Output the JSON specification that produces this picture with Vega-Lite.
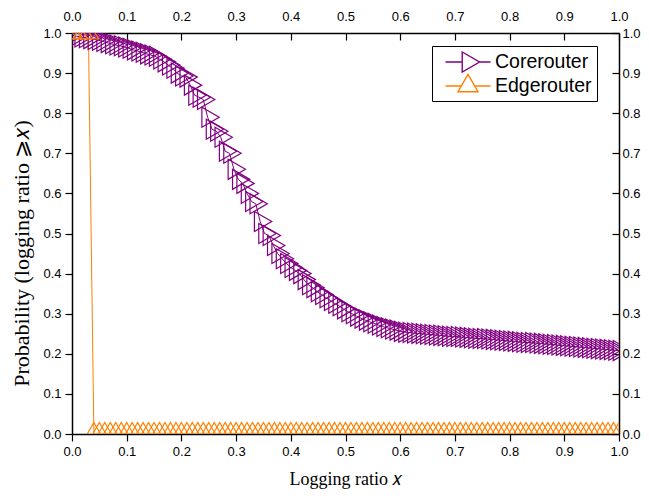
{
  "$schema": "https://vega.github.io/schema/vega-lite/v6.json",
  "width": 547,
  "height": 401,
  "autosize": {"type": "none"},
  "padding": {"left": 72, "top": 33, "right": 30, "bottom": 68},
  "background": "white",
  "config": {
    "view": {"stroke": null},
    "axis": {
      "grid": false,
      "domainColor": "black",
      "domainWidth": 1.5,
      "tickColor": "black",
      "tickWidth": 1.2,
      "labelFont": "Liberation Sans",
      "labelFontSize": 13,
      "labelColor": "black",
      "titleFont": "Liberation Serif",
      "titleFontSize": 18,
      "titleFontWeight": "normal",
      "titleColor": "black",
      "labelFlush": false,
      "labelOverlap": false,
      "labelBound": false,
      "values": [0, 0.05, 0.1, 0.15, 0.2, 0.25, 0.3, 0.35, 0.4, 0.45, 0.5, 0.55, 0.6, 0.65, 0.7, 0.75, 0.8, 0.85, 0.9, 0.95, 1.0],
      "labelExpr": "round(datum.value*100) % 10 == 0 ? format(datum.value, '.1f') : ''"
    },
    "legend": {
      "title": null,
      "orient": "none",
      "legendX": 360,
      "legendY": 13,
      "padding": 5,
      "rowPadding": -6,
      "strokeColor": "black",
      "strokeWidth": 1,
      "fillColor": "white",
      "cornerRadius": 0,
      "symbolSize": 400,
      "symbolStrokeWidth": 1.4,
      "symbolFillColor": "transparent",
      "symbolOpacity": 1,
      "symbolOffset": 20,
      "labelOffset": 16,
      "labelFont": "Liberation Sans",
      "labelFontSize": 19.5,
      "labelColor": "black"
    }
  },
  "datasets": {
    "core": [
      {"s":"Corerouter","x":0.000,"y":0.995},{"s":"Corerouter","x":0.008,"y":0.992},{"s":"Corerouter","x":0.016,"y":0.990},{"s":"Corerouter","x":0.024,"y":0.988},
      {"s":"Corerouter","x":0.032,"y":0.986},{"s":"Corerouter","x":0.040,"y":0.984},{"s":"Corerouter","x":0.048,"y":0.982},{"s":"Corerouter","x":0.056,"y":0.979},
      {"s":"Corerouter","x":0.064,"y":0.976},{"s":"Corerouter","x":0.072,"y":0.973},{"s":"Corerouter","x":0.080,"y":0.970},{"s":"Corerouter","x":0.088,"y":0.968},
      {"s":"Corerouter","x":0.096,"y":0.965},{"s":"Corerouter","x":0.104,"y":0.962},{"s":"Corerouter","x":0.112,"y":0.958},{"s":"Corerouter","x":0.120,"y":0.955},
      {"s":"Corerouter","x":0.128,"y":0.952},{"s":"Corerouter","x":0.136,"y":0.948},{"s":"Corerouter","x":0.144,"y":0.945},{"s":"Corerouter","x":0.152,"y":0.942},
      {"s":"Corerouter","x":0.160,"y":0.935},{"s":"Corerouter","x":0.168,"y":0.928},{"s":"Corerouter","x":0.176,"y":0.920},{"s":"Corerouter","x":0.184,"y":0.912},
      {"s":"Corerouter","x":0.192,"y":0.900},{"s":"Corerouter","x":0.200,"y":0.893},{"s":"Corerouter","x":0.208,"y":0.890},{"s":"Corerouter","x":0.216,"y":0.870},
      {"s":"Corerouter","x":0.224,"y":0.845},{"s":"Corerouter","x":0.232,"y":0.840},{"s":"Corerouter","x":0.240,"y":0.834},{"s":"Corerouter","x":0.248,"y":0.790},
      {"s":"Corerouter","x":0.256,"y":0.760},{"s":"Corerouter","x":0.264,"y":0.755},{"s":"Corerouter","x":0.272,"y":0.740},{"s":"Corerouter","x":0.280,"y":0.705},
      {"s":"Corerouter","x":0.288,"y":0.700},{"s":"Corerouter","x":0.296,"y":0.660},{"s":"Corerouter","x":0.304,"y":0.635},{"s":"Corerouter","x":0.312,"y":0.625},
      {"s":"Corerouter","x":0.320,"y":0.600},{"s":"Corerouter","x":0.328,"y":0.580},{"s":"Corerouter","x":0.336,"y":0.574},{"s":"Corerouter","x":0.344,"y":0.530},
      {"s":"Corerouter","x":0.352,"y":0.500},{"s":"Corerouter","x":0.360,"y":0.495},{"s":"Corerouter","x":0.368,"y":0.470},{"s":"Corerouter","x":0.376,"y":0.450},
      {"s":"Corerouter","x":0.384,"y":0.437},{"s":"Corerouter","x":0.392,"y":0.425},{"s":"Corerouter","x":0.400,"y":0.415},{"s":"Corerouter","x":0.408,"y":0.408},
      {"s":"Corerouter","x":0.416,"y":0.400},{"s":"Corerouter","x":0.424,"y":0.385},{"s":"Corerouter","x":0.432,"y":0.372},{"s":"Corerouter","x":0.440,"y":0.365},
      {"s":"Corerouter","x":0.448,"y":0.355},{"s":"Corerouter","x":0.456,"y":0.348},{"s":"Corerouter","x":0.464,"y":0.340},{"s":"Corerouter","x":0.472,"y":0.333},
      {"s":"Corerouter","x":0.480,"y":0.326},{"s":"Corerouter","x":0.488,"y":0.320},{"s":"Corerouter","x":0.496,"y":0.312},{"s":"Corerouter","x":0.504,"y":0.305},
      {"s":"Corerouter","x":0.512,"y":0.300},{"s":"Corerouter","x":0.520,"y":0.294},{"s":"Corerouter","x":0.528,"y":0.289},{"s":"Corerouter","x":0.536,"y":0.284},
      {"s":"Corerouter","x":0.544,"y":0.280},{"s":"Corerouter","x":0.552,"y":0.276},{"s":"Corerouter","x":0.560,"y":0.272},{"s":"Corerouter","x":0.568,"y":0.268},
      {"s":"Corerouter","x":0.576,"y":0.265},{"s":"Corerouter","x":0.584,"y":0.262},{"s":"Corerouter","x":0.592,"y":0.259},{"s":"Corerouter","x":0.600,"y":0.256},
      {"s":"Corerouter","x":0.608,"y":0.254},{"s":"Corerouter","x":0.616,"y":0.253},{"s":"Corerouter","x":0.624,"y":0.252},{"s":"Corerouter","x":0.632,"y":0.251},
      {"s":"Corerouter","x":0.640,"y":0.250},{"s":"Corerouter","x":0.648,"y":0.249},{"s":"Corerouter","x":0.656,"y":0.248},{"s":"Corerouter","x":0.664,"y":0.247},
      {"s":"Corerouter","x":0.672,"y":0.246},{"s":"Corerouter","x":0.680,"y":0.245},{"s":"Corerouter","x":0.688,"y":0.244},{"s":"Corerouter","x":0.696,"y":0.243},
      {"s":"Corerouter","x":0.704,"y":0.243},{"s":"Corerouter","x":0.712,"y":0.242},{"s":"Corerouter","x":0.720,"y":0.241},{"s":"Corerouter","x":0.728,"y":0.240},
      {"s":"Corerouter","x":0.736,"y":0.239},{"s":"Corerouter","x":0.744,"y":0.238},{"s":"Corerouter","x":0.752,"y":0.238},{"s":"Corerouter","x":0.760,"y":0.237},
      {"s":"Corerouter","x":0.768,"y":0.236},{"s":"Corerouter","x":0.776,"y":0.235},{"s":"Corerouter","x":0.784,"y":0.234},{"s":"Corerouter","x":0.792,"y":0.233},
      {"s":"Corerouter","x":0.800,"y":0.232},{"s":"Corerouter","x":0.808,"y":0.231},{"s":"Corerouter","x":0.816,"y":0.230},{"s":"Corerouter","x":0.824,"y":0.229},
      {"s":"Corerouter","x":0.832,"y":0.228},{"s":"Corerouter","x":0.840,"y":0.228},{"s":"Corerouter","x":0.848,"y":0.227},{"s":"Corerouter","x":0.856,"y":0.226},
      {"s":"Corerouter","x":0.864,"y":0.225},{"s":"Corerouter","x":0.872,"y":0.224},{"s":"Corerouter","x":0.880,"y":0.223},{"s":"Corerouter","x":0.888,"y":0.222},
      {"s":"Corerouter","x":0.896,"y":0.221},{"s":"Corerouter","x":0.904,"y":0.220},{"s":"Corerouter","x":0.912,"y":0.219},{"s":"Corerouter","x":0.920,"y":0.218},
      {"s":"Corerouter","x":0.928,"y":0.217},{"s":"Corerouter","x":0.936,"y":0.216},{"s":"Corerouter","x":0.944,"y":0.215},{"s":"Corerouter","x":0.952,"y":0.214},
      {"s":"Corerouter","x":0.960,"y":0.213},{"s":"Corerouter","x":0.968,"y":0.212},{"s":"Corerouter","x":0.976,"y":0.211},{"s":"Corerouter","x":0.984,"y":0.210},
      {"s":"Corerouter","x":0.992,"y":0.209},{"s":"Corerouter","x":1.000,"y":0.208},
      {"s":"Edgerouter","x":0.00,"y":1},{"s":"Edgerouter","x":0.01,"y":1},{"s":"Edgerouter","x":0.02,"y":1},{"s":"Edgerouter","x":0.03,"y":1},
      {"s":"Edgerouter","x":0.04,"y":0},{"s":"Edgerouter","x":0.05,"y":0},{"s":"Edgerouter","x":0.06,"y":0},{"s":"Edgerouter","x":0.07,"y":0},
      {"s":"Edgerouter","x":0.08,"y":0},{"s":"Edgerouter","x":0.09,"y":0},{"s":"Edgerouter","x":0.10,"y":0},{"s":"Edgerouter","x":0.11,"y":0},
      {"s":"Edgerouter","x":0.12,"y":0},{"s":"Edgerouter","x":0.13,"y":0},{"s":"Edgerouter","x":0.14,"y":0},{"s":"Edgerouter","x":0.15,"y":0},
      {"s":"Edgerouter","x":0.16,"y":0},{"s":"Edgerouter","x":0.17,"y":0},{"s":"Edgerouter","x":0.18,"y":0},{"s":"Edgerouter","x":0.19,"y":0},
      {"s":"Edgerouter","x":0.20,"y":0},{"s":"Edgerouter","x":0.21,"y":0},{"s":"Edgerouter","x":0.22,"y":0},{"s":"Edgerouter","x":0.23,"y":0},
      {"s":"Edgerouter","x":0.24,"y":0},{"s":"Edgerouter","x":0.25,"y":0},{"s":"Edgerouter","x":0.26,"y":0},{"s":"Edgerouter","x":0.27,"y":0},
      {"s":"Edgerouter","x":0.28,"y":0},{"s":"Edgerouter","x":0.29,"y":0},{"s":"Edgerouter","x":0.30,"y":0},{"s":"Edgerouter","x":0.31,"y":0},
      {"s":"Edgerouter","x":0.32,"y":0},{"s":"Edgerouter","x":0.33,"y":0},{"s":"Edgerouter","x":0.34,"y":0},{"s":"Edgerouter","x":0.35,"y":0},
      {"s":"Edgerouter","x":0.36,"y":0},{"s":"Edgerouter","x":0.37,"y":0},{"s":"Edgerouter","x":0.38,"y":0},{"s":"Edgerouter","x":0.39,"y":0},
      {"s":"Edgerouter","x":0.40,"y":0},{"s":"Edgerouter","x":0.41,"y":0},{"s":"Edgerouter","x":0.42,"y":0},{"s":"Edgerouter","x":0.43,"y":0},
      {"s":"Edgerouter","x":0.44,"y":0},{"s":"Edgerouter","x":0.45,"y":0},{"s":"Edgerouter","x":0.46,"y":0},{"s":"Edgerouter","x":0.47,"y":0},
      {"s":"Edgerouter","x":0.48,"y":0},{"s":"Edgerouter","x":0.49,"y":0},{"s":"Edgerouter","x":0.50,"y":0},{"s":"Edgerouter","x":0.51,"y":0},
      {"s":"Edgerouter","x":0.52,"y":0},{"s":"Edgerouter","x":0.53,"y":0},{"s":"Edgerouter","x":0.54,"y":0},{"s":"Edgerouter","x":0.55,"y":0},
      {"s":"Edgerouter","x":0.56,"y":0},{"s":"Edgerouter","x":0.57,"y":0},{"s":"Edgerouter","x":0.58,"y":0},{"s":"Edgerouter","x":0.59,"y":0},
      {"s":"Edgerouter","x":0.60,"y":0},{"s":"Edgerouter","x":0.61,"y":0},{"s":"Edgerouter","x":0.62,"y":0},{"s":"Edgerouter","x":0.63,"y":0},
      {"s":"Edgerouter","x":0.64,"y":0},{"s":"Edgerouter","x":0.65,"y":0},{"s":"Edgerouter","x":0.66,"y":0},{"s":"Edgerouter","x":0.67,"y":0},
      {"s":"Edgerouter","x":0.68,"y":0},{"s":"Edgerouter","x":0.69,"y":0},{"s":"Edgerouter","x":0.70,"y":0},{"s":"Edgerouter","x":0.71,"y":0},
      {"s":"Edgerouter","x":0.72,"y":0},{"s":"Edgerouter","x":0.73,"y":0},{"s":"Edgerouter","x":0.74,"y":0},{"s":"Edgerouter","x":0.75,"y":0},
      {"s":"Edgerouter","x":0.76,"y":0},{"s":"Edgerouter","x":0.77,"y":0},{"s":"Edgerouter","x":0.78,"y":0},{"s":"Edgerouter","x":0.79,"y":0},
      {"s":"Edgerouter","x":0.80,"y":0},{"s":"Edgerouter","x":0.81,"y":0},{"s":"Edgerouter","x":0.82,"y":0},{"s":"Edgerouter","x":0.83,"y":0},
      {"s":"Edgerouter","x":0.84,"y":0},{"s":"Edgerouter","x":0.85,"y":0},{"s":"Edgerouter","x":0.86,"y":0},{"s":"Edgerouter","x":0.87,"y":0},
      {"s":"Edgerouter","x":0.88,"y":0},{"s":"Edgerouter","x":0.89,"y":0},{"s":"Edgerouter","x":0.90,"y":0},{"s":"Edgerouter","x":0.91,"y":0},
      {"s":"Edgerouter","x":0.92,"y":0},{"s":"Edgerouter","x":0.93,"y":0},{"s":"Edgerouter","x":0.94,"y":0},{"s":"Edgerouter","x":0.95,"y":0},
      {"s":"Edgerouter","x":0.96,"y":0},{"s":"Edgerouter","x":0.97,"y":0},{"s":"Edgerouter","x":0.98,"y":0},{"s":"Edgerouter","x":0.99,"y":0},
      {"s":"Edgerouter","x":1.00,"y":0}
    ]
  },
  "data": {"name": "core"},
  "layer": [
    {
      "mark": {"type": "line", "strokeWidth": 1, "clip": true},
      "encoding": {
        "x": {
          "field": "x", "type": "quantitative",
          "scale": {"domain": [0, 1], "nice": false, "zero": false},
          "axis": {
            "orient": "bottom",
            "title": "Logging ratio 𝑥",
            "tickSize": {"condition": {"test": "round(datum.value*100) % 10 == 0", "value": 7}, "value": 4},
            "labelPadding": 4,
            "titlePadding": 12
          }
        },
        "y": {
          "field": "y", "type": "quantitative",
          "scale": {"domain": [0, 1], "nice": false},
          "axis": {
            "orient": "left",
            "title": "Probability (logging ratio ⩾𝑥)",
            "titleFontSize": 22,
            "tickSize": {"condition": {"test": "round(datum.value*100) % 10 == 0", "value": 7}, "value": 4},
            "labelPadding": 4,
            "titlePadding": 9,
            "titleY": 220
          }
        },
        "color": {
          "field": "s", "type": "nominal",
          "scale": {"domain": ["Corerouter", "Edgerouter"], "range": ["#800080", "#FF8000"]}
        }
      }
    },
    {
      "transform": [{"filter": "datum.s === 'Corerouter'"}],
      "mark": {"type": "point", "shape": "M-0.577,-1L1.155,0L-0.577,1Z", "filled": false, "strokeWidth": 1.2, "size": 400, "clip": true, "opacity": 1},
      "encoding": {
        "x": {
          "field": "x", "type": "quantitative",
          "axis": {
            "orient": "top",
            "title": null,
            "tickSize": {"condition": {"test": "round(datum.value*100) % 10 == 0", "value": -7}, "value": -4},
            "labelPadding": 17
          }
        },
        "y": {
          "field": "y", "type": "quantitative",
          "axis": {
            "orient": "right",
            "title": null,
            "tickSize": {"condition": {"test": "round(datum.value*100) % 10 == 0", "value": -7}, "value": -4},
            "labelPadding": 10
          }
        },
        "color": {"field": "s", "type": "nominal"}
      }
    },
    {
      "transform": [{"filter": "datum.s === 'Edgerouter'"}],
      "mark": {"type": "point", "shape": "M0,-1.155L1,0.577L-1,0.577Z", "filled": false, "strokeWidth": 1.2, "size": 400, "clip": true, "opacity": 1},
      "encoding": {
        "x": {"field": "x", "type": "quantitative", "axis": null},
        "y": {"field": "y", "type": "quantitative", "axis": null},
        "color": {"field": "s", "type": "nominal"}
      }
    },
    {
      "transform": [{"filter": "datum.s === 'none'"}],
      "mark": {"type": "point", "filled": false, "strokeWidth": 1.4, "size": 400, "clip": true},
      "encoding": {
        "x": {"field": "x", "type": "quantitative", "axis": null},
        "y": {"field": "y", "type": "quantitative", "axis": null},
        "color": {"field": "s", "type": "nominal"},
        "shape": {
          "field": "s", "type": "nominal",
          "scale": {"domain": ["Corerouter", "Edgerouter"], "range": ["M-2.25,0H-0.577M-0.577,-1L1.155,0L-0.577,1ZM1.155,0H2.25", "M-2.25,0H-0.667M0,-1.155L1,0.577L-1,0.577ZM0.667,0H2.25"]}
        }
      }
    }
  ],
  "resolve": {"axis": {"x": "independent", "y": "independent"}}
}
